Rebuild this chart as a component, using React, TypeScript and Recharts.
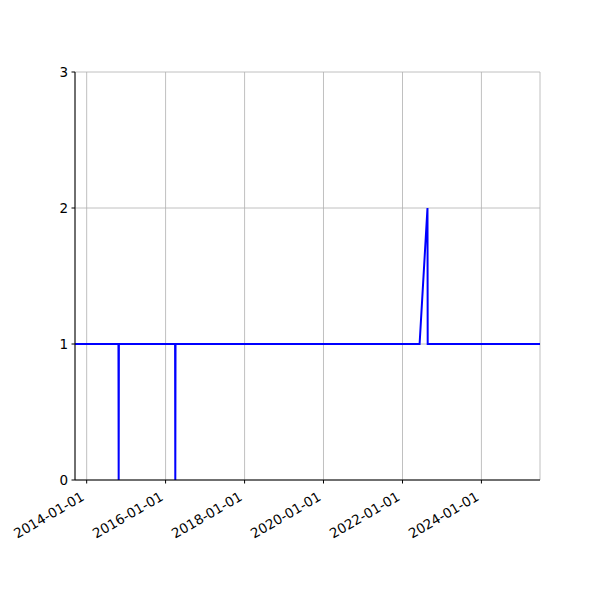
import { LineChart, Line, XAxis, YAxis, CartesianGrid } from 'recharts';

const dates = [
  '2013-09-15',
  '2014-10-22', '2014-10-24', '2014-10-26',
  '2016-03-29', '2016-03-31', '2016-04-02',
  '2022-06-08', '2022-08-20', '2022-08-22',
  '2025-06-26',
];
const values = [1, 1, 0, 1, 1, 0, 1, 1, 2, 1, 1];

const xTickDates = ['2014-01-01', '2016-01-01', '2018-01-01', '2020-01-01', '2022-01-01', '2024-01-01'];
const yTicks = [0, 1, 2, 3];

const toMs = (d: string) => Date.parse(d + 'T00:00:00Z');

const data = dates.map((d, i) => ({ t: toMs(d), v: values[i] }));
const xTicks = xTickDates.map(toMs);
const xDomain = [data[0].t, data[data.length - 1].t];

const fmt = (ms: number) => new Date(ms).toISOString().slice(0, 10);

const font = 'DejaVu Sans, sans-serif';

const DateTick = (props: any) => {
  const { x, y, payload } = props;
  const px = x - 1.5;
  const py = y + 12.5;
  return (
    <text
      x={px}
      y={py}
      textAnchor="end"
      fontSize={13.5}
      fontFamily={font}
      fill="#000"
      transform={`rotate(-30, ${px}, ${py})`}
    >
      {fmt(payload.value)}
    </text>
  );
};

export default function App() {
  return (
    <div style={{ position: 'absolute', left: 0, top: 0, width: 600, height: 600, background: '#fff' }}>
      <LineChart
        width={600}
        height={600}
        data={data}
        margin={{ top: 72, right: 60, bottom: 90, left: 35 }}
      >
        <CartesianGrid xAxisId="main" yAxisId="main" stroke="#b0b0b0" strokeWidth={0.8} />
        <XAxis
          xAxisId="main"
          dataKey="t"
          type="number"
          scale="time"
          domain={xDomain}
          ticks={xTicks}
          tick={<DateTick />}
          tickSize={3.5}
          tickMargin={3.5}
          height={30}
          stroke="#000"
          interval={0}
          allowDataOverflow
        />
        <XAxis
          xAxisId="top"
          orientation="top"
          dataKey="t"
          type="number"
          domain={xDomain}
          height={0}
          tick={false}
          tickLine={false}
          stroke="#000"
        />
        <YAxis
          yAxisId="main"
          domain={[0, 3]}
          ticks={yTicks}
          width={40}
          tickSize={3.5}
          tickMargin={3.5}
          stroke="#000"
          tick={{ fill: '#000', fontSize: 13.5, fontFamily: font }}
          interval={0}
        />
        <YAxis
          yAxisId="right"
          orientation="right"
          domain={[0, 3]}
          width={0}
          tick={false}
          tickLine={false}
          stroke="#000"
        />
        <Line
          xAxisId="main"
          yAxisId="main"
          dataKey="v"
          type="linear"
          stroke="#0000ff"
          strokeWidth={2}
          dot={false}
          isAnimationActive={false}
        />
      </LineChart>
    </div>
  );
}
